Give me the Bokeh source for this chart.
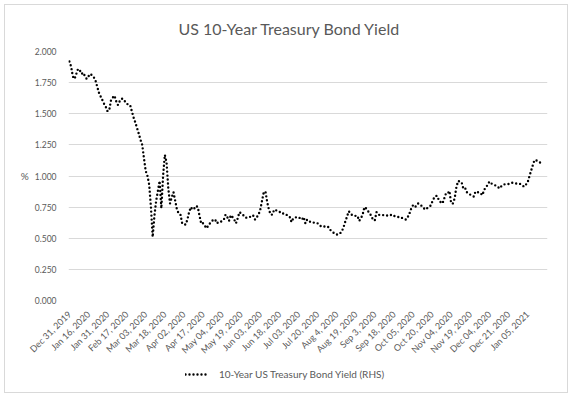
from math import pi
from bokeh.plotting import figure
from bokeh.layouts import column
from bokeh.models import (Range1d, FixedTicker, NumeralTickFormatter, Legend,
                          LegendItem, ColumnDataSource)
from bokeh.embed import file_html
from bokeh.resources import INLINE

# Daily (weekday) 10-year US Treasury yield, %, Dec 31 2019 -> mid Jan 2021
yield_pct = [
    1.92, 1.88, 1.80, 1.78, 1.82, 1.86, 1.85, 1.82, 1.83, 1.80,
    1.78, 1.80, 1.82, 1.81, 1.795, 1.77, 1.72, 1.67, 1.64, 1.61,
    1.58, 1.555, 1.52, 1.53, 1.61, 1.63, 1.645, 1.60, 1.57, 1.60,
    1.62, 1.62, 1.60, 1.58, 1.575, 1.57, 1.52, 1.47, 1.43, 1.385,
    1.34, 1.29, 1.25, 1.14, 1.04, 1.00, 0.93, 0.75, 0.51, 0.68,
    0.80, 0.88, 0.96, 0.74, 1.00, 1.17, 1.11, 0.90, 0.78, 0.83,
    0.87, 0.80, 0.73, 0.70, 0.69, 0.62, 0.61, 0.61, 0.65, 0.71,
    0.75, 0.73, 0.74, 0.76, 0.75, 0.68, 0.615, 0.62, 0.60, 0.58,
    0.60, 0.62, 0.635, 0.65, 0.65, 0.62, 0.63, 0.63, 0.64, 0.65,
    0.69, 0.67, 0.64, 0.685, 0.67, 0.65, 0.62, 0.66, 0.71, 0.70,
    0.69, 0.67, 0.665, 0.667, 0.67, 0.685, 0.68, 0.65, 0.67, 0.69,
    0.73, 0.80, 0.87, 0.875, 0.79, 0.73, 0.69, 0.69, 0.73, 0.725,
    0.72, 0.715, 0.70, 0.70, 0.69, 0.69, 0.68, 0.67, 0.63, 0.66,
    0.665, 0.67, 0.67, 0.66, 0.65, 0.67, 0.62, 0.65, 0.64, 0.63,
    0.63, 0.625, 0.62, 0.62, 0.61, 0.595, 0.594, 0.594, 0.594, 0.594,
    0.57, 0.56, 0.547, 0.535, 0.53, 0.53, 0.54, 0.555, 0.59, 0.634,
    0.675, 0.717, 0.70, 0.685, 0.68, 0.68, 0.68, 0.64, 0.66, 0.69,
    0.75, 0.74, 0.72, 0.70, 0.68, 0.645, 0.645, 0.71, 0.69, 0.686,
    0.686, 0.686, 0.686, 0.683, 0.68, 0.685, 0.69, 0.68, 0.675, 0.672,
    0.67, 0.67, 0.66, 0.655, 0.65, 0.67, 0.70, 0.74, 0.765, 0.75,
    0.76, 0.78, 0.77, 0.76, 0.745, 0.73, 0.74, 0.75, 0.76, 0.79,
    0.82, 0.84, 0.84, 0.80, 0.79, 0.78, 0.82, 0.86, 0.86, 0.88,
    0.78, 0.78, 0.82, 0.91, 0.96, 0.955, 0.95, 0.90, 0.905, 0.87,
    0.86, 0.85, 0.84, 0.835, 0.875, 0.87, 0.87, 0.86, 0.846, 0.888,
    0.91, 0.928, 0.955, 0.94, 0.936, 0.928, 0.92, 0.91, 0.90, 0.92,
    0.93, 0.934, 0.935, 0.936, 0.94, 0.946, 0.944, 0.94, 0.94, 0.94,
    0.935, 0.925, 0.914, 0.93, 0.946, 0.994, 1.04, 1.085, 1.128, 1.125,
    1.12, 1.112, 1.096,
]

tick_labels = [
    "Dec 31, 2019", "Jan 16, 2020", "Jan 31, 2020", "Feb 17, 2020",
    "Mar 03, 2020", "Mar 18, 2020", "Apr 02, 2020", "Apr 17, 2020",
    "May 04, 2020", "May 19, 2020", "Jun 03, 2020", "Jun 18, 2020",
    "Jul 03, 2020", "Jul 20, 2020", "Aug 4, 2020", "Aug 19, 2020",
    "Sep 3, 2020", "Sep 18, 2020", "Oct 05, 2020", "Oct 20, 2020",
    "Nov 04, 2020", "Nov 19, 2020", "Dec 04, 2020", "Dec 21, 2020",
    "Jan 05, 2021",
]
label_every = 11          # one date label every 11 weekday categories
n_categories = 276        # weekday slots on the category axis
y_ticks = [0.0, 0.25, 0.5, 0.75, 1.0, 1.25, 1.5, 1.75, 2.0]

series_name = "10-Year US Treasury Bond Yield (RHS)"
title_text = "US 10-Year Treasury Bond Yield"

TEXT = "#595959"
FONT = "Lato"
BORDER = "#d9d9d9"
LINE = dict(line_color="black", line_width=2.4, line_dash="0 4",
            line_cap="round")


def frame_shadow(sides):
    """1px light-grey chart border, 4px inside the element, on given sides."""
    offs = {"left": ("{}px", "0"), "right": ("-{}px", "0"),
            "top": ("0", "{}px"), "bottom": ("0", "-{}px")}
    white = ["inset {} {} 0 0 white".format(offs[s][0].format(4),
                                             offs[s][1].format(4))
             for s in ("left", "right", "top", "bottom")
             if s in sides or s in ("left", "right")]
    grey = ["inset {} {} 0 0 {}".format(offs[s][0].format(5),
                                        offs[s][1].format(5), BORDER)
            for s in sides]
    return ", ".join(white + grey)


src = ColumnDataSource(dict(i=list(range(len(yield_pct))), v=yield_pct))

p = figure(width=572, height=362, output_backend="svg", toolbar_location=None,
           x_range=Range1d(-0.5, n_categories - 0.5), y_range=Range1d(0, 2.0),
           min_border_left=68, min_border_right=25, min_border_top=51,
           min_border_bottom=61)
p.outline_line_color = None
p.background_fill_color = "white"
p.border_fill_alpha = 0
p.styles = {"box-shadow": frame_shadow(["left", "right", "top"])}

p.title.text = title_text
p.title.text_font = FONT
p.title.text_font_size = "16px"
p.title.text_font_style = "normal"
p.title.text_color = TEXT
p.title.align = "left"
p.title.offset = 110
if "standoff" in p.title.properties():
    p.title.standoff = 28

r = p.line(x="i", y="v", source=src, **LINE)

# axes
tick_pos = [k * label_every for k in range(len(tick_labels))]
xa = p.xaxis[0]
xa.ticker = FixedTicker(ticks=tick_pos)
xa.major_label_overrides = {t: lab for t, lab in zip(tick_pos, tick_labels)}
xa.major_label_orientation = pi / 4
ya = p.yaxis[0]
ya.ticker = FixedTicker(ticks=y_ticks)
ya.formatter = NumeralTickFormatter(format="0.000")
ya.axis_label = "%"
ya.axis_label_orientation = "horizontal"
ya.axis_label_standoff = 3
ya.axis_label_text_font = FONT
ya.axis_label_text_font_size = "10px"
ya.axis_label_text_font_style = "normal"
ya.axis_label_text_color = TEXT
for ax in (xa, ya):
    ax.axis_line_color = None
    ax.major_tick_line_color = None
    ax.minor_tick_line_color = None
    ax.major_tick_out = 0
    ax.major_tick_in = 0
    ax.major_label_text_font = FONT
    ax.major_label_text_color = TEXT
ya.major_label_text_font_size = "8.5px"
xa.major_label_text_font_size = "9px"
ya.major_label_standoff = 12
xa.major_label_standoff = 12

p.xgrid.visible = False
p.ygrid.grid_line_color = BORDER
p.ygrid.grid_line_width = 1

# legend strip below the chart (its own frame lines up with the chart's)
lf = figure(width=572, height=35, output_backend="svg", toolbar_location=None,
            x_range=Range1d(-0.5, n_categories - 0.5), y_range=Range1d(5, 6),
            min_border=0, min_border_left=0, min_border_right=0,
            min_border_top=0, min_border_bottom=0)
lf.axis.visible = False
lf.grid.visible = False
lf.outline_line_color = None
lf.background_fill_alpha = 0
lf.border_fill_alpha = 0
lf.styles = {"box-shadow": frame_shadow(["left", "right", "bottom"])}
lr = lf.line(x="i", y="v", source=src, **LINE)   # off-range: legend sample only
legend = Legend(items=[LegendItem(label=series_name, renderers=[lr])],
                location=(117, 17), orientation="horizontal",
                border_line_color=None, background_fill_alpha=0,
                label_text_font=FONT, label_text_font_size="10px",
                label_text_color=TEXT, glyph_width=22, glyph_height=10,
                label_standoff=12, padding=0, margin=0)
lf.add_layout(legend, "center")

page = column(p, lf, spacing=0)

open("out.html", "w").write(file_html(page, INLINE))
